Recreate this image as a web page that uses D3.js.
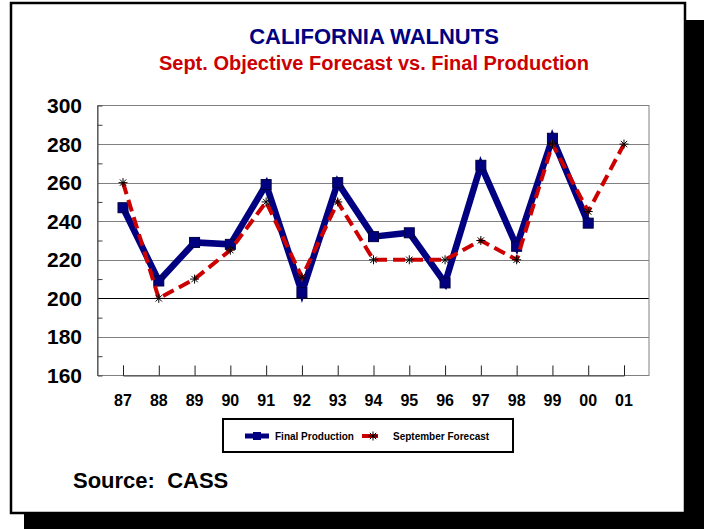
<!DOCTYPE html>
<html>
<head>
<meta charset="utf-8">
<script src="https://cdn.jsdelivr.net/npm/d3@7.9.0/dist/d3.min.js"></script>
<style>
  body { margin: 0; background: #fff; }
  svg { display: block; font-family: "Liberation Sans", Arial, sans-serif; }
</style>
</head>
<body>
<svg id="chart" width="704" height="529"></svg>
<script>
// crop years (x categories)
const years = ['87', '88', '89', '90', '91', '92', '93', '94', '95', '96', '97', '98', '99', '00', '01'];
// million pounds
const finalProduction = [247, 209, 229, 228, 259, 203, 260, 232, 234, 208, 269, 227, 283, 239, null];
const septForecast = [260, 200, 210, 225, 250, 211, 250, 220, 220, 220, 230, 220, 280, 245, 280];
const yTicks = [160, 180, 200, 220, 240, 260, 280, 300];

const svg = d3.select('#chart');

// drop shadow and frame
svg.append('rect').attr('x', 24).attr('y', 20).attr('width', 680).attr('height', 509).attr('fill', '#000');
svg.append('rect').attr('x', 11).attr('y', 3).attr('width', 674).attr('height', 510)
  .attr('fill', '#fff').attr('stroke', '#000').attr('stroke-width', 2.5);

// titles
svg.append('text').attr('x', 374).attr('y', 44).attr('text-anchor', 'middle')
  .attr('font-size', 22).attr('font-weight', 'bold').attr('fill', '#000080')
  .text('CALIFORNIA WALNUTS');
svg.append('text').attr('x', 374).attr('y', 70).attr('text-anchor', 'middle')
  .attr('font-size', 20).attr('font-weight', 'bold').attr('fill', '#cc0000')
  .text('Sept. Objective Forecast vs. Final Production');

// plot area
const plot = { left: 97.5, right: 649, top: 105.5, bottom: 375.5 };

const x = d3.scalePoint().domain(years).range([123, 624]);
const y = d3.scaleLinear().domain([160, 300]).range([plot.bottom, plot.top]);

const g = svg.append('g');

// gridlines
g.selectAll('line.grid')
  .data(yTicks.filter(d => d > 160 && d < 300))
  .join('line')
  .attr('class', 'grid')
  .attr('x1', plot.left).attr('x2', plot.right)
  .attr('y1', d => Math.round(y(d)) + 0.5).attr('y2', d => Math.round(y(d)) + 0.5)
  .attr('stroke', d => d === 200 ? '#000' : '#808080');

// plot border
g.append('rect')
  .attr('x', plot.left).attr('y', plot.top)
  .attr('width', plot.right - plot.left).attr('height', plot.bottom - plot.top)
  .attr('fill', 'none').attr('stroke', '#808080');

// y axis with minor ticks inside
const yAxis = d3.axisLeft(y).tickValues(d3.range(170, 300, 20)).tickSize(-5).tickFormat('');
g.append('g').attr('transform', `translate(${plot.left},0)`).call(yAxis)
  .call(a => a.select('.domain').attr('stroke', '#404040'))
  .call(a => a.selectAll('.tick line').attr('stroke', '#404040'));

g.selectAll('text.ylab')
  .data(yTicks)
  .join('text')
  .attr('class', 'ylab')
  .attr('x', 82).attr('y', d => y(d) + 7.5)
  .attr('text-anchor', 'end')
  .attr('font-size', 21).attr('font-weight', 'bold')
  .text(d => d);

// x axis, ticks inward at each category
const xAxis = d3.axisBottom(x).tickSize(-10).tickFormat('');
g.append('g').attr('transform', `translate(0,${plot.bottom})`).call(xAxis)
  .call(a => a.select('.domain').attr('stroke', '#404040'))
  .call(a => a.selectAll('.tick line').attr('stroke', '#202020'));

g.selectAll('text.xlab')
  .data(years)
  .join('text')
  .attr('class', 'xlab')
  .attr('x', d => x(d)).attr('y', 406)
  .attr('text-anchor', 'middle')
  .attr('font-size', 16).attr('font-weight', 'bold')
  .text(d => d);

// final production line + squares
const lineFinal = d3.line()
  .defined(d => d != null)
  .x((d, i) => x(years[i]))
  .y(d => y(d));

g.append('path')
  .attr('d', lineFinal(finalProduction))
  .attr('fill', 'none').attr('stroke', '#000080').attr('stroke-width', 6.5)
  .attr('stroke-linejoin', 'miter');

g.selectAll('rect.sq')
  .data(finalProduction.map((v, i) => ({ v, i })).filter(d => d.v != null))
  .join('rect')
  .attr('class', 'sq')
  .attr('x', d => x(years[d.i]) - 5).attr('y', d => y(d.v) - 5)
  .attr('width', 10).attr('height', 10)
  .attr('fill', '#000080').attr('stroke', '#000040').attr('stroke-width', 1);

// september forecast dashed line + asterisks
const lineFc = d3.line()
  .x((d, i) => x(years[i]))
  .y(d => y(d));

g.append('path')
  .attr('d', lineFc(septForecast))
  .attr('fill', 'none').attr('stroke', '#cc0000').attr('stroke-width', 4)
  .attr('stroke-dasharray', '12,6');

function asterisk(sel, cx, cy, r) {
  const p = [];
  for (let k = 0; k < 4; k++) {
    const a = k * Math.PI / 4;
    p.push(`M${cx - r * Math.cos(a)},${cy - r * Math.sin(a)}L${cx + r * Math.cos(a)},${cy + r * Math.sin(a)}`);
  }
  sel.append('path').attr('d', p.join('')).attr('stroke', '#000').attr('stroke-width', 1).attr('fill', 'none');
}
septForecast.forEach((v, i) => asterisk(g, x(years[i]), y(v), 4.5));

// legend
const lg = svg.append('g');
lg.append('rect').attr('x', 223).attr('y', 419).attr('width', 290).attr('height', 33)
  .attr('fill', '#fff').attr('stroke', '#000').attr('stroke-width', 2);
lg.append('line').attr('x1', 245).attr('x2', 269).attr('y1', 436).attr('y2', 436)
  .attr('stroke', '#000080').attr('stroke-width', 5);
lg.append('rect').attr('x', 253).attr('y', 432).attr('width', 8).attr('height', 8).attr('fill', '#000080');
lg.append('text').attr('x', 275).attr('y', 439.5).attr('font-size', 10).attr('font-weight', 'bold')
  .text('Final Production');
lg.append('line').attr('x1', 362).attr('x2', 378).attr('y1', 436).attr('y2', 436)
  .attr('stroke', '#cc0000').attr('stroke-width', 4);
asterisk(lg, 373, 436, 4.5);
lg.append('text').attr('x', 393).attr('y', 439.5).attr('font-size', 10).attr('font-weight', 'bold')
  .text('September Forecast');

// source note
svg.append('text').attr('x', 73).attr('y', 488).attr('font-size', 22).attr('font-weight', 'bold')
  .attr('xml:space', 'preserve').style('white-space', 'pre')
  .text('Source:  CASS');
</script>
</body>
</html>
